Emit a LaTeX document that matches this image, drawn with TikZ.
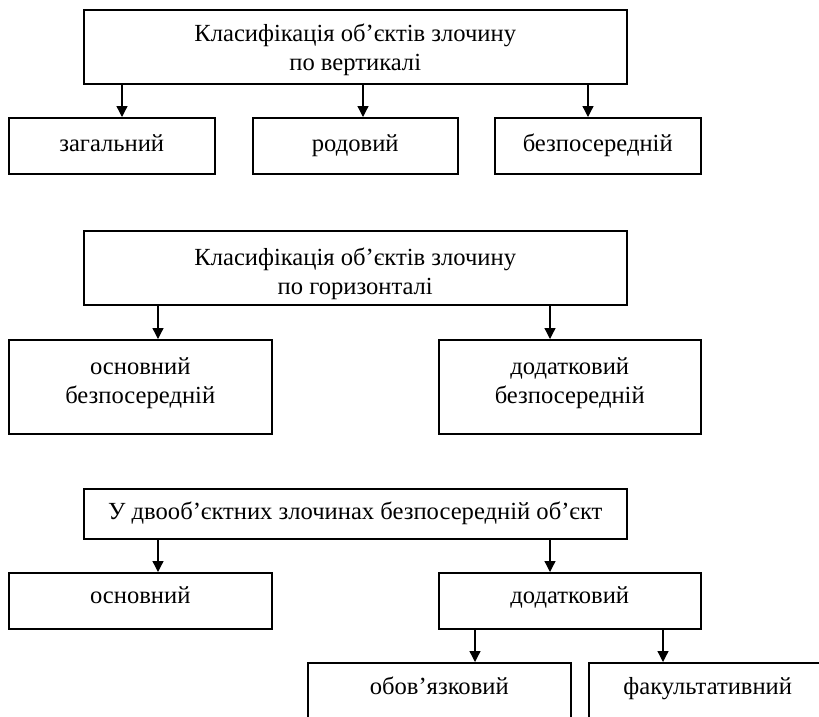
\documentclass[tikz,border=0pt]{standalone}
\usepackage{fontspec}
\setmainfont{Liberation Serif}
\usetikzlibrary{arrows.meta}
\newcommand{\liftby}[2]{\raisebox{#1}[\height][\depth]{\begin{tabular}{@{}c@{}}#2\end{tabular}}}
\begin{document}
\begin{tikzpicture}[x=1pt,y=-1pt,
  box/.style={draw, line width=1.5pt, rectangle, inner sep=0pt, align=center,
    anchor=north west, font=\fontsize{24.6}{29}\selectfont},
  arr/.style={line width=1.3pt, -{Triangle[length=11pt,width=11pt]}}]
\useasboundingbox (0,0) rectangle (819,716);
\clip (0,0) rectangle (819,716);
% block 1
\node[box, minimum width=543pt, minimum height=74pt] (b1) at (83,9) {\liftby{-3pt}{\strut Класифікація об’єктів злочину\\\strut по вертикалі}};
\node[box, minimum width=206pt, minimum height=56pt] (c1) at (8,117) {\liftby{0pt}{\strut загальний}};
\node[box, minimum width=205pt, minimum height=56pt] (c2) at (252,117) {\liftby{0pt}{\strut родовий}};
\node[box, minimum width=206pt, minimum height=56pt] (c3) at (494,117) {\liftby{0pt}{\strut безпосередній}};
\draw[arr] (b1.south -| 122,0) -- (c1.north -| 122,0);
\draw[arr] (b1.south -| 363,0) -- (c2.north -| 363,0);
\draw[arr] (b1.south -| 588,0) -- (c3.north -| 588,0);
% block 2
\node[box, minimum width=543pt, minimum height=74pt] (b2) at (83,230) {\liftby{-6pt}{\strut Класифікація об’єктів злочину\\\strut по горизонталі}};
\node[box, minimum width=263pt, minimum height=94pt] (d1) at (8,339) {\liftby{4pt}{\strut основний\\\strut безпосередній}};
\node[box, minimum width=262pt, minimum height=94pt] (d2) at (438,339) {\liftby{4pt}{\strut додатковий\\\strut безпосередній}};
\draw[arr] (b2.south -| 158,0) -- (d1.north -| 158,0);
\draw[arr] (b2.south -| 550,0) -- (d2.north -| 550,0);
% block 3
\node[box, minimum width=543pt, minimum height=50pt] (b3) at (83,488) {\liftby{0pt}{\strut У двооб’єктних злочинах безпосередній об’єкт}};
\node[box, minimum width=263pt, minimum height=56pt] (e1) at (8,572) {\liftby{3pt}{\strut основний}};
\node[box, minimum width=262pt, minimum height=56pt] (e2) at (438,572) {\liftby{3pt}{\strut додатковий}};
\draw[arr] (b3.south -| 158,0) -- (e1.north -| 158,0);
\draw[arr] (b3.south -| 550,0) -- (e2.north -| 550,0);
\node[box, minimum width=263pt, minimum height=56pt] (f1) at (307,662) {\liftby{2pt}{\strut обов’язковий}};
\node[box, minimum width=238pt, minimum height=56pt] (f2) at (588,662) {\liftby{2pt}{\strut факультативний}};
\draw[arr] (e2.south -| 475,0) -- (f1.north -| 475,0);
\draw[arr] (e2.south -| 663,0) -- (f2.north -| 663,0);
\end{tikzpicture}
\end{document}
